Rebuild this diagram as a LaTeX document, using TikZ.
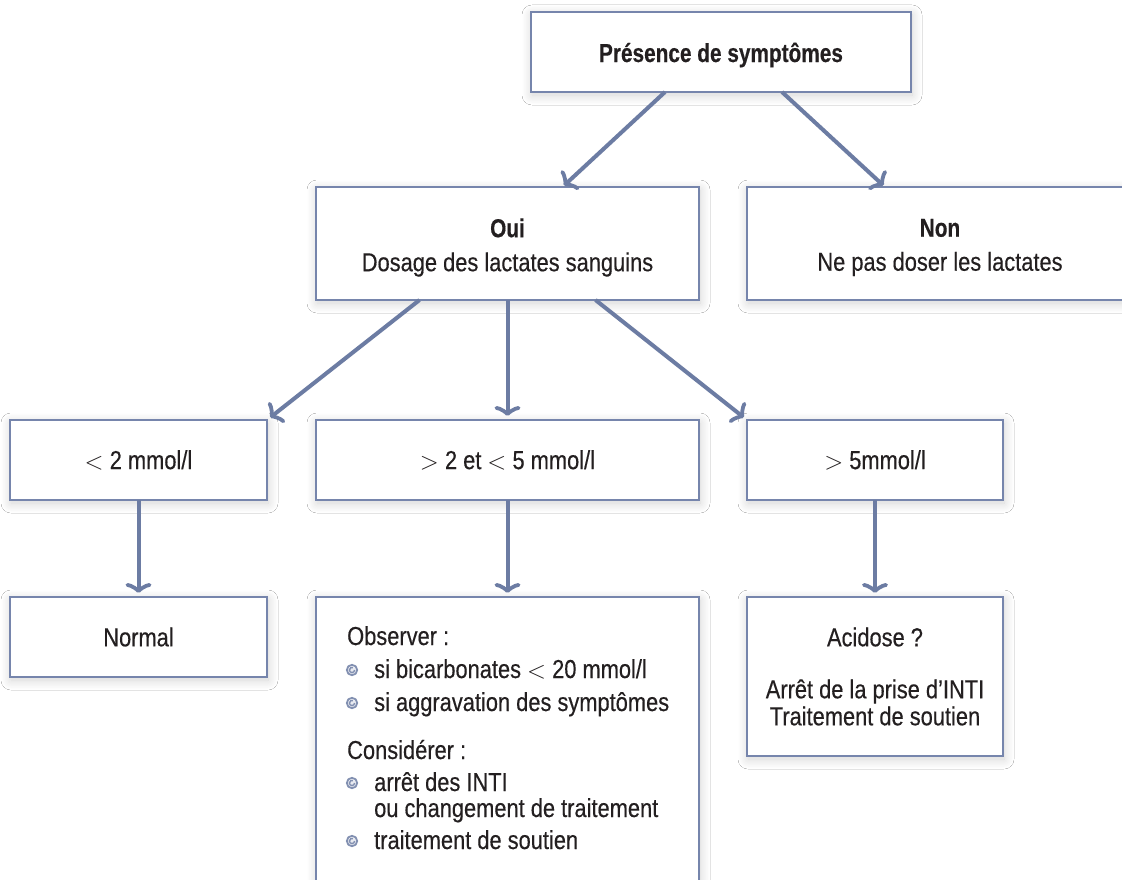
\documentclass[tikz,border=0pt]{standalone}
\usepackage{fontspec}
\setmainfont{Liberation Sans}[FakeStretch=0.84, FakeBold=0.35, BoldFeatures={FakeStretch=0.80, FakeBold=0.3}]
\usetikzlibrary{arrows.meta,shadows.blur,calc}
\definecolor{arrowc}{RGB}{108,124,163}
\definecolor{boxc}{RGB}{118,133,172}
\definecolor{txtc}{RGB}{35,31,32}
\tikzset{
  box/.style={draw=boxc, line width=2pt, fill=white, text=txtc, align=center,
    inner sep=0pt, outer sep=0pt,
    blur shadow={shadow xshift=1pt, shadow yshift=-3pt, shadow blur steps=14,
      shadow blur radius=10pt, shadow opacity=18}},
  arr/.style={draw=arrowc, line width=4pt,
    -{Classical TikZ Rightarrow[length=10pt,width=26pt,line width=3.8pt]}},
  txt/.style={text=txtc, inner sep=0pt, anchor=base west},
  lbl/.style={text=txtc, align=center, inner sep=0pt},
  bul/.pic={\fill[arrowc!15] (0,0) circle (6);
    \draw[arrowc!85, line width=1.7pt] (0,0) circle (5.2);
    \draw[arrowc!85, line width=1.4pt] (2.6,0) arc (0:290:2.6);}
}
\begin{document}
\begin{tikzpicture}[x=1pt,y=-1pt,font=\fontsize{26}{28}\selectfont]
\useasboundingbox (0,0) rectangle (1122,880);
\clip (0,0) rectangle (1122,880);
\fill[white] (0,0) rectangle (1122,880);

\node[box, minimum width=380, minimum height=80,
  label={[lbl, yshift=-3pt]center:\textbf{Présence de symptômes}}] (top) at (721,52) {};
\node[box, minimum width=383, minimum height=113,
  label={[lbl, yshift=-4pt]center:{\textbf{Oui}\\[6pt]Dosage des lactates sanguins}}] (oui) at (507.5,243.5) {};
\node[box, minimum width=386, minimum height=113,
  label={[lbl, yshift=-4pt]center:{\textbf{Non}\\[6pt]Ne pas doser les lactates}}] (non) at (940,243.5) {};

\node[box, minimum width=257, minimum height=80] (lt2) at (138.5,460) {$<$ 2 mmol/l};
\node[box, minimum width=383, minimum height=80] (mid) at (507.5,460) {$>$ 2 et $<$ 5 mmol/l};
\node[box, minimum width=256, minimum height=80] (gt5) at (875,460) {$>$ 5mmol/l};

\node[box, minimum width=257, minimum height=80] (normal) at (138.5,637) {Normal};
\node[box, minimum width=383, minimum height=310] (obs) at (507.5,752) {};
\node[box, minimum width=256, minimum height=159] (acid) at (875,676.5) {Acidose ?\\[24pt]Arrêt de la prise d’INTI\\[-1pt]Traitement de soutien};

% text of the observation box
\node[txt] (o1) at (347,645) {Observer :};
\node[txt] (o2) at (374,678) {si bicarbonates $<$ 20 mmol/l};
\node[txt] (o3) at (374,711) {si aggravation des symptômes};
\node[txt] (o4) at (347,759) {Considérer :};
\node[txt] (o5) at (374,791) {arrêt des INTI};
\node[txt] (o6) at (374,817) {ou changement de traitement};
\node[txt] (o7) at (374,849) {traitement de soutien};
\pic at (352,670) {bul};
\pic at (352,703) {bul};
\pic at (352,783) {bul};
\pic at (352,841) {bul};

% connectors
\draw[arr, shorten >=2pt] ($(top.south)+(-56,0)$) -- ($(oui.north)+(55,0)$);
\draw[arr, shorten >=2pt] ($(top.south)+(61,0)$) -- ($(non.north)+(-55,0)$);
\draw[arr, shorten >=4pt] ($(oui.south)+(-88,0)$) -- (lt2.north east);
\draw[arr, shorten >=4pt] (oui.south) -- (mid.north);
\draw[arr, shorten >=4pt] ($(oui.south)+(88,0)$) -- (gt5.north west);
\draw[arr, shorten >=4pt] (lt2.south) -- (normal.north);
\draw[arr, shorten >=4pt] (mid.south) -- (obs.north);
\draw[arr, shorten >=4pt] (gt5.south) -- (acid.north);
\end{tikzpicture}
\end{document}
